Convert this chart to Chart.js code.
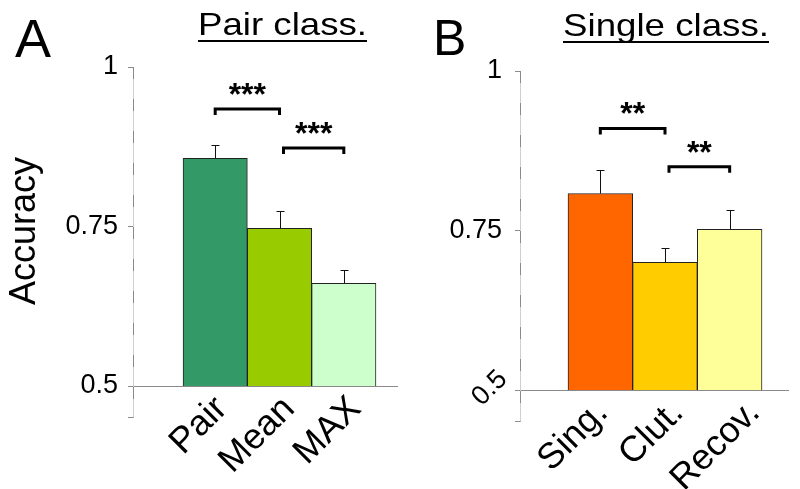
<!DOCTYPE html>
<html><head><meta charset="utf-8">
<script src="https://cdn.jsdelivr.net/npm/chart.js@4/dist/chart.umd.min.js"></script>
<style>
html,body{margin:0;padding:0;background:#fff;}
#wrap{position:relative;width:800px;height:489px;overflow:hidden;}
.c{position:absolute;top:0;height:489px;width:400px;}
</style></head><body>
<div id="wrap">
<div class="c" style="left:0"><canvas id="cA"></canvas></div>
<div class="c" style="left:400px"><canvas id="cB"></canvas></div>
</div>
<script>
// ---- data ----
const pairLabels = ['Pair', 'Mean', 'MAX'];
const pairValues = [0.857, 0.747, 0.661];
const pairErrors = [0.020, 0.028, 0.021];
const pairColors = ['#339966', '#99cc00', '#ccffcc'];
const pairSigFrom = [0, 1];
const pairSigTo = [1, 2];
const pairSigLevel = [0.934, 0.873];
const pairSigText = ['***', '***'];

const singleLabels = ['Sing.', 'Clut.', 'Recov.'];
const singleValues = [0.808, 0.700, 0.752];
const singleErrors = [0.037, 0.023, 0.030];
const singleColors = ['#ff6600', '#ffcc00', '#ffff99'];
const singleSigFrom = [0, 1];
const singleSigTo = [1, 2];
const singleSigLevel = [0.910, 0.850];
const singleSigText = ['**', '**'];

const yTickValues = [0.5, 0.75, 1];
const yTickLabels = ['0.5', '0.75', '1'];
const yAxisTitle = 'Accuracy';

const FONT = "'Liberation Sans', Arial, Helvetica, sans-serif";
const AXIS_LIGHT = '#cfcfcf';
const AXIS_GREY = '#8a8a8a';

const panelPlugin = {
  id: 'panelDecor',
  afterDatasetsDraw(chart, args, o) {
    const ctx = chart.ctx, xs = chart.scales.x, ys = chart.scales.y, a = chart.chartArea;
    ctx.save();
    // y-axis: light line with darker dashes, extended below 0.5
    const yTop = ys.getPixelForValue(1);
    const yb = ys.getPixelForValue(0.5);
    const ye = yb + (yb - ys.getPixelForValue(0.55));
    const ax = a.left + 0.5;
    ctx.lineWidth = 1;
    ctx.strokeStyle = AXIS_LIGHT;
    ctx.beginPath(); ctx.moveTo(ax, yTop); ctx.lineTo(ax, ye); ctx.stroke();
    ctx.strokeStyle = AXIS_GREY;
    ctx.setLineDash([12, 20]);
    ctx.beginPath(); ctx.moveTo(ax, yTop); ctx.lineTo(ax, ye); ctx.stroke();
    ctx.setLineDash([]);
    ctx.beginPath();
    ctx.moveTo(a.left - 5, Math.round(ye) - 0.5); ctx.lineTo(ax, Math.round(ye) - 0.5);
    ctx.stroke();
    // error bars
    ctx.strokeStyle = '#111'; ctx.lineWidth = 1;
    o.values.forEach((v, i) => {
      const x = Math.round(xs.getPixelForValue(i + 1)) + 0.5;
      const y0 = ys.getPixelForValue(v), y1 = Math.round(ys.getPixelForValue(v + o.errors[i])) + 0.5;
      ctx.beginPath();
      ctx.moveTo(x, y0); ctx.lineTo(x, y1);
      ctx.moveTo(x - 4, y1); ctx.lineTo(x + 4, y1);
      ctx.stroke();
    });
    // significance brackets
    ctx.lineWidth = 3; ctx.strokeStyle = '#000'; ctx.fillStyle = '#000';
    o.sigFrom.forEach((f, k) => {
      const x0 = xs.getPixelForValue(f + 1) + (k > 0 ? 4 : 0);
      const x1 = xs.getPixelForValue(o.sigTo[k] + 1);
      const y = ys.getPixelForValue(o.sigLevel[k]);
      ctx.beginPath();
      ctx.moveTo(x0, y + 6); ctx.lineTo(x0, y); ctx.lineTo(x1, y); ctx.lineTo(x1, y + 6);
      ctx.stroke();
      ctx.font = 'bold 32px ' + FONT; ctx.textAlign = 'center'; ctx.textBaseline = 'alphabetic';
      ctx.fillText(o.sigText[k], (x0 + x1) / 2, y - 4);
    });
    // panel letter
    ctx.textAlign = 'left'; ctx.textBaseline = 'alphabetic';
    ctx.font = o.letterSize + 'px ' + FONT;
    ctx.fillText(o.letter, o.letterX, o.letterY);
    // title (underlined)
    ctx.font = '32px ' + FONT;
    const w = ctx.measureText(o.title).width;
    const sx = (o.titleRight - o.titleLeft) / w;
    ctx.save();
    ctx.translate(o.titleLeft, o.titleY);
    ctx.scale(sx, 1);
    ctx.fillText(o.title, 0, 0);
    ctx.restore();
    ctx.fillRect(o.titleLeft, o.titleY + 5, o.titleRight - o.titleLeft, 2);
    // axis title
    if (o.yTitle) {
      ctx.save();
      ctx.translate(25, 231); ctx.rotate(-Math.PI / 2);
      ctx.font = '36px ' + FONT; ctx.textAlign = 'center'; ctx.textBaseline = 'middle';
      ctx.fillText(o.yTitle, 0, 0);
      ctx.restore();
    }
    // rotated 0.5 label
    if (o.rotatedBottom) {
      ctx.save();
      const yp = ys.getPixelForValue(0.5);
      ctx.translate(a.left - 17, yp - 15); ctx.rotate(-Math.PI / 4);
      ctx.font = '27px ' + FONT; ctx.textAlign = 'right'; ctx.textBaseline = 'middle';
      ctx.fillText(yTickLabels[0], 0, 0);
      ctx.restore();
    }
    ctx.restore();
  }
};

function makeChart(id, labels, values, colors, p) {
  return new Chart(document.getElementById(id), {
    type: 'bar',
    data: {
      datasets: [{
        data: values.map((v, i) => ({ x: i + 1, y: [0.5, v] })),
        backgroundColor: colors,
        borderColor: '#222',
        borderWidth: 1,
        borderSkipped: 'start',
        barPercentage: 1,
        categoryPercentage: 1
      }]
    },
    options: {
      responsive: true, maintainAspectRatio: false, animation: false, devicePixelRatio: 1,
      layout: { padding: { left: 0, top: p.top, right: p.right, bottom: 0 } },
      plugins: { legend: { display: false }, tooltip: { enabled: false }, panelDecor: p.decor },
      scales: {
        x: {
          type: 'linear', min: p.xmin, max: p.xmax, offset: false,
          afterBuildTicks: s => { s.ticks = labels.map((l, i) => ({ value: i + 1 + p.labelShift[i] })); },
          afterFit: s => { s.height = 489 - p.bottom; },
          grid: { display: false, drawTicks: false },
          border: { display: true, color: AXIS_GREY, width: 1 },
          ticks: {
            autoSkip: false, maxRotation: 45, minRotation: 45, padding: 2,
            color: '#000', font: { size: 36, family: FONT },
            callback: (v, i) => labels[i]
          }
        },
        y: {
          min: 0.5, max: 1,
          afterBuildTicks: s => { s.ticks = yTickValues.map(v => ({ value: v })); },
          afterFit: s => { s.width = p.axisX; },
          grid: { drawOnChartArea: false, drawTicks: true, tickLength: 5, color: AXIS_GREY },
          border: { display: false },
          ticks: {
            padding: p.tickPad, color: '#000', font: { size: 27, family: FONT },
            callback: v => {
              const i = yTickValues.indexOf(v);
              if (p.decor.rotatedBottom && i === 0) return '';
              return yTickLabels[i];
            }
          }
        }
      }
    },
    plugins: [panelPlugin]
  });
}

makeChart('cA', pairLabels, pairValues, pairColors, {
  top: 67, bottom: 386, right: 3, axisX: 133, tickPad: 10,
  xmin: -0.278, xmax: 3.827, labelShift: [0.1, 0.15, 0.18],
  decor: {
    values: pairValues, errors: pairErrors,
    sigFrom: pairSigFrom, sigTo: pairSigTo, sigLevel: pairSigLevel, sigText: pairSigText,
    letter: 'A', letterSize: 54, letterX: 15, letterY: 57,
    title: 'Pair class.', titleLeft: 198, titleRight: 367, titleY: 35,
    yTitle: yAxisTitle, rotatedBottom: false
  }
});

makeChart('cB', singleLabels, singleValues, singleColors, {
  top: 71, bottom: 390, right: 12, axisX: 120, tickPad: 13,
  xmin: -0.242, xmax: 3.902, labelShift: [0.03, 0.2, 0.38],
  decor: {
    values: singleValues, errors: singleErrors,
    sigFrom: singleSigFrom, sigTo: singleSigTo, sigLevel: singleSigLevel, sigText: singleSigText,
    letter: 'B', letterSize: 50, letterX: 33, letterY: 55,
    title: 'Single class.', titleLeft: 163, titleRight: 369, titleY: 36,
    yTitle: null, rotatedBottom: true
  }
});
</script>
</body></html>
